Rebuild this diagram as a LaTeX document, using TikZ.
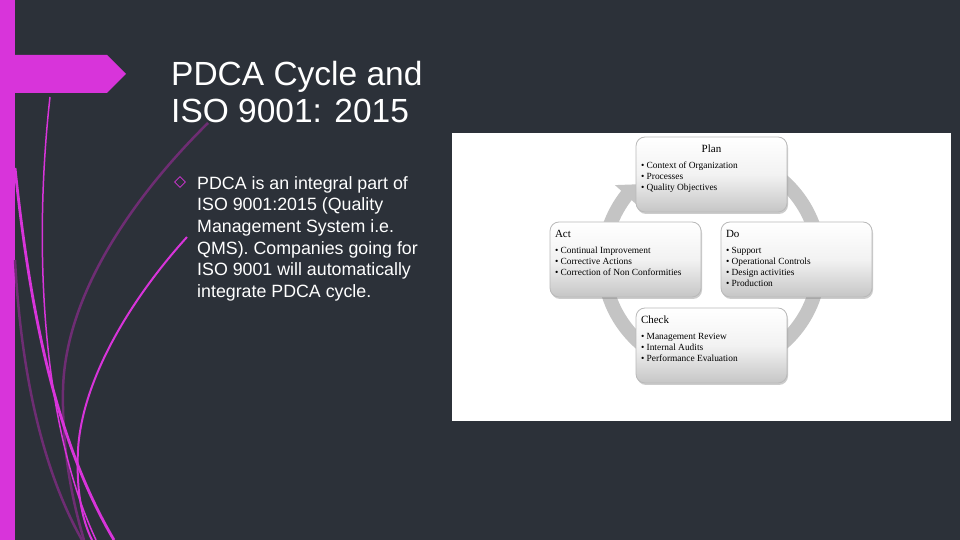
\documentclass[tikz,border=0pt]{standalone}
\usepackage{fontspec}
\setmainfont{Liberation Sans}
\newfontfamily\cycfont{Liberation Serif}
\usetikzlibrary{arrows.meta,bending,shadows,shapes.geometric}

\definecolor{slidebg}{RGB}{44,49,57}
\definecolor{barpink}{RGB}{216,52,218}
\definecolor{plum}{RGB}{110,45,115}
\definecolor{ringgray}{RGB}{196,196,196}

\newcommand{\cyctext}[1]{\parbox[c][65pt][t]{141pt}{\raggedright\cycfont\fontsize{9.4}{11.2}\selectfont\rule{0pt}{11pt}#1}}
\newcommand{\cychead}[1]{{\fontsize{11}{11}\selectfont #1}\\[4pt]}

\begin{document}
\begin{tikzpicture}[x=1pt, y=1pt,
  stepbox/.style={draw=gray!55, line width=0.8pt, rounded corners=9pt,
    top color=white, bottom color=gray!45, middle color=white!90!gray,
    drop shadow={shadow xshift=1pt, shadow yshift=-2pt, opacity=.4},
    inner xsep=5pt, inner ysep=5pt}]
  \useasboundingbox (0,0) rectangle (960,540);
  \fill[slidebg] (0,0) rectangle (960,540);
  % side bar and pennant
  \fill[barpink] (0,0) rectangle (15,540);
  \fill[barpink] (15,485) -- (107,485) -- (126,466) -- (107,447) -- (15,447) -- cycle;
  % swooshes
  \draw[plum, line width=2.5pt] (15,280) .. controls (22,150) and (48,60) .. (82,0);
  \draw[plum, line width=2.5pt] (208,417) .. controls (140,350) and (65,250) .. (63,150)
    .. controls (62,90) and (72,40) .. (84,0);
  \draw[barpink, line width=2.8pt] (15,372) .. controls (30,230) and (55,100) .. (114,0);
  \draw[barpink, line width=1.5pt] (50,443) .. controls (34,300) and (40,120) .. (96,0);
  \draw[barpink, line width=2pt] (187,303) .. controls (130,240) and (82,160) .. (78,90)
    .. controls (76,50) and (82,20) .. (92,0);
  % slide text
  \node[anchor=north west, inner sep=0, align=left, text=white,
    font=\fontsize{33.5}{37.5}\selectfont] (title) at (171,479) {PDCA Cycle and\\ISO 9001: 2015};
  \node[diamond, draw=barpink, line width=0.7pt, inner sep=0, minimum size=11pt] (bullet) at (180,358) {};
  \node[anchor=north west, inner sep=0, align=left, text=white,
    font=\fontsize{17.8}{21.7}\selectfont] (body) at (197,364)
    {PDCA is an integral part of\\ISO 9001:2015 (Quality\\Management System i.e.\\
     QMS). Companies going for\\ISO 9001 will automatically\\integrate PDCA cycle.};
  % cycle picture
  \fill[white] (452,119) rectangle (951,407);
  \draw[ringgray, line width=14pt, -{Triangle[width=30pt,length=15pt,flex]}]
    (711.5,278) ++(90:108) arc[start angle=90, end angle=-226, radius=108];
  \node[stepbox] (plan) at (711.5,365.5) {\cyctext{\cychead{\makebox[\linewidth]{Plan}}
    \textbullet\ Context of Organization\\ \textbullet\ Processes\\ \textbullet\ Quality Objectives}};
  \node[stepbox] (act) at (625.5,280.5) {\cyctext{\cychead{Act}
    \textbullet\ Continual Improvement\\ \textbullet\ Corrective Actions\\ \textbullet\ Correction of Non Conformities}};
  \node[stepbox] (do) at (796.5,280.5) {\cyctext{\cychead{Do}
    \textbullet\ Support\\ \textbullet\ Operational Controls\\ \textbullet\ Design activities\\ \textbullet\ Production}};
  \node[stepbox] (check) at (711.5,194.5) {\cyctext{\cychead{Check}
    \textbullet\ Management Review\\ \textbullet\ Internal Audits\\ \textbullet\ Performance Evaluation}};
\end{tikzpicture}
\end{document}
